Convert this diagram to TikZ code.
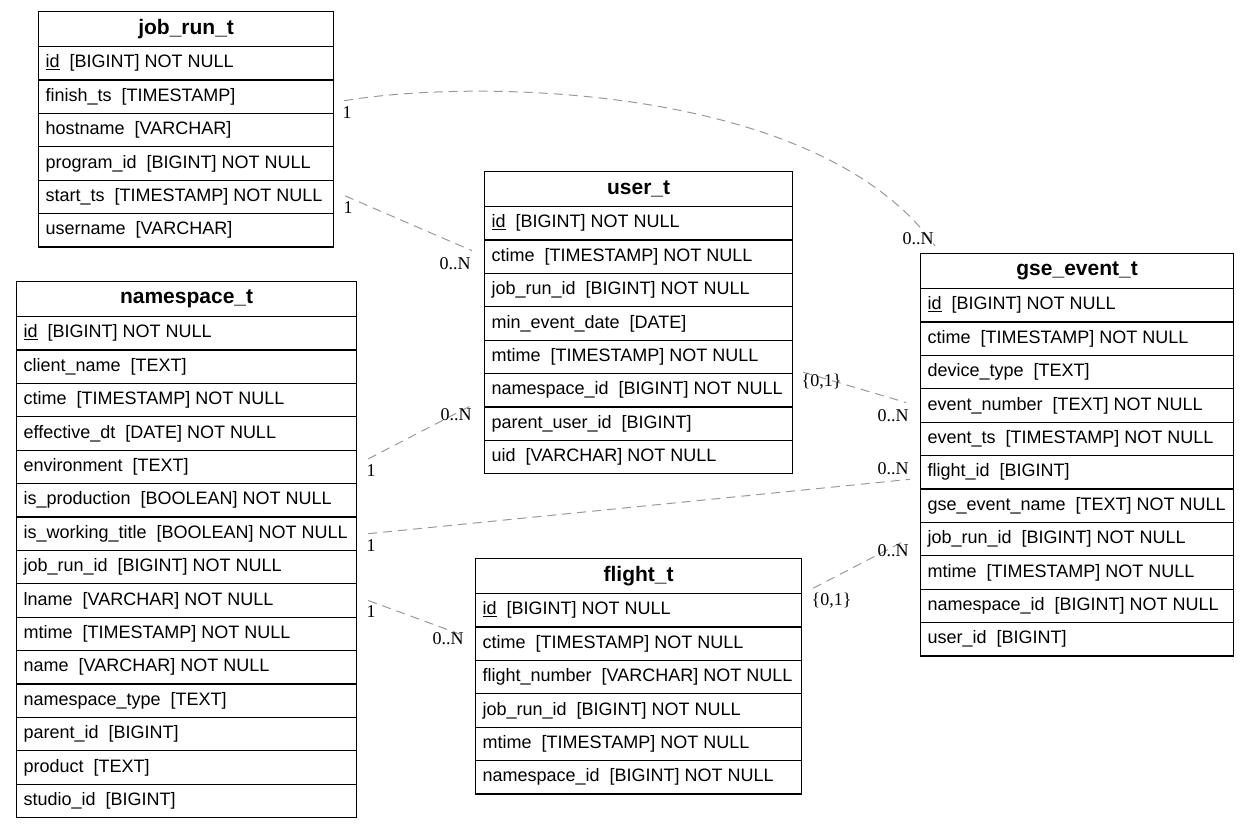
\documentclass[tikz,border=0pt]{standalone}
\usepackage{fontspec}
\setmainfont{Liberation Sans}
\newfontfamily\kerroinfont{Liberation Serif}
\newcommand\sar[2]{#1\ \ #2}
\begin{document}
\begin{tikzpicture}[x=1pt,y=-1pt,
  otsikko/.style={draw, rectangle, anchor=north west, minimum height=35pt, inner sep=0pt, line width=1.2pt, font=\fontsize{21}{24}\selectfont\bfseries},
  rivi/.style={draw, rectangle, anchor=north west, minimum height=33.4pt, inner xsep=7pt, inner ysep=0pt, line width=1.2pt, font=\fontsize{18}{20}\selectfont},
  liitos/.style={draw=gray!80, line width=1pt, dash pattern=on 9pt off 6pt},
  kerroin/.style={font=\kerroinfont\fontsize{18}{20}\selectfont, inner sep=1pt},
  alku/.style={kerroin, pos=0, anchor=north west, xshift=-3pt, yshift=-4pt},
  loppu/.style={kerroin, pos=1, anchor=#1}]
\useasboundingbox (0,0) rectangle (1249,827);
\newcommand\taulu[6]{
\node[otsikko, minimum width=#4pt] (#1) at (#2,#3) {#5};
\pgfmathsetmacro\leveys{#4-14}
\foreach \teksti [count=\i] in {#6}
  \node[rivi, minimum width=#4pt] (#1-\i) at (#2,{#3+35+(\i-1)*33.4}) {\makebox[\leveys pt][l]{\teksti}};
}
% tables
\taulu{job}{38}{11}{295}{job\_run\_t}{
  \sar{\underline{id}}{[BIGINT] NOT NULL},
  \sar{finish\_ts}{[TIMESTAMP]},
  \sar{hostname}{[VARCHAR]},
  \sar{program\_id}{[BIGINT] NOT NULL},
  \sar{start\_ts}{[TIMESTAMP] NOT NULL},
  \sar{username}{[VARCHAR]}}
\taulu{ns}{16}{281}{340}{namespace\_t}{
  \sar{\underline{id}}{[BIGINT] NOT NULL},
  \sar{client\_name}{[TEXT]},
  \sar{ctime}{[TIMESTAMP] NOT NULL},
  \sar{effective\_dt}{[DATE] NOT NULL},
  \sar{environment}{[TEXT]},
  \sar{is\_production}{[BOOLEAN] NOT NULL},
  \sar{is\_working\_title}{[BOOLEAN] NOT NULL},
  \sar{job\_run\_id}{[BIGINT] NOT NULL},
  \sar{lname}{[VARCHAR] NOT NULL},
  \sar{mtime}{[TIMESTAMP] NOT NULL},
  \sar{name}{[VARCHAR] NOT NULL},
  \sar{namespace\_type}{[TEXT]},
  \sar{parent\_id}{[BIGINT]},
  \sar{product}{[TEXT]},
  \sar{studio\_id}{[BIGINT]}}
\taulu{user}{484}{171}{308}{user\_t}{
  \sar{\underline{id}}{[BIGINT] NOT NULL},
  \sar{ctime}{[TIMESTAMP] NOT NULL},
  \sar{job\_run\_id}{[BIGINT] NOT NULL},
  \sar{min\_event\_date}{[DATE]},
  \sar{mtime}{[TIMESTAMP] NOT NULL},
  \sar{namespace\_id}{[BIGINT] NOT NULL},
  \sar{parent\_user\_id}{[BIGINT]},
  \sar{uid}{[VARCHAR] NOT NULL}}
\taulu{gse}{920}{253}{313}{gse\_event\_t}{
  \sar{\underline{id}}{[BIGINT] NOT NULL},
  \sar{ctime}{[TIMESTAMP] NOT NULL},
  \sar{device\_type}{[TEXT]},
  \sar{event\_number}{[TEXT] NOT NULL},
  \sar{event\_ts}{[TIMESTAMP] NOT NULL},
  \sar{flight\_id}{[BIGINT]},
  \sar{gse\_event\_name}{[TEXT] NOT NULL},
  \sar{job\_run\_id}{[BIGINT] NOT NULL},
  \sar{mtime}{[TIMESTAMP] NOT NULL},
  \sar{namespace\_id}{[BIGINT] NOT NULL},
  \sar{user\_id}{[BIGINT]}}
\taulu{flight}{475}{558}{326}{flight\_t}{
  \sar{\underline{id}}{[BIGINT] NOT NULL},
  \sar{ctime}{[TIMESTAMP] NOT NULL},
  \sar{flight\_number}{[VARCHAR] NOT NULL},
  \sar{job\_run\_id}{[BIGINT] NOT NULL},
  \sar{mtime}{[TIMESTAMP] NOT NULL},
  \sar{namespace\_id}{[BIGINT] NOT NULL}}
% relations
\draw[liitos] ([shift={(10,4)}]job-2.east) .. controls (480,78) and (820,85) .. ([shift={(15,-7)}]gse.north west)
  node[alku] {1} node[loppu=south east] {0..N};
\draw[liitos] ([shift={(11,-1)}]job-5.east) -- ([shift={(-12,-6)}]user-2.west)
  node[alku] {1} node[loppu=north east, yshift=-5pt] {0..N};
\draw[liitos] ([shift={(11,-8)}]ns-5.east) -- ([shift={(-11,-3)}]user-6.south west)
  node[alku] {1} node[loppu=north east, yshift=-2pt] {0..N};
\draw[liitos] ([shift={(11,0)}]ns-7.east) -- ([shift={(-10,7)}]gse-6.west)
  node[alku] {1} node[loppu=south east, yshift=3pt] {0..N};
\draw[liitos] ([shift={(11,0)}]ns-9.east) -- ([shift={(-8,-7)}]flight-2.west)
  node[alku] {1} node[loppu=north east, shift={(-2,-6)}] {0..N};
\draw[liitos] ([shift={(10,-2)}]user-5.south east) -- ([shift={(-14,-3)}]gse-4.west)
  node[alku, yshift=4pt] {\{0,1\}} node[loppu=north east, shift={(4,6)}] {0..N};
\draw[liitos] ([shift={(11,-6)}]flight.south east) -- ([shift={(-14,1)}]gse-8.west)
  node[alku, yshift=1pt] {\{0,1\}} node[loppu=north east, shift={(4,3)}] {0..N};
\end{tikzpicture}
\end{document}
